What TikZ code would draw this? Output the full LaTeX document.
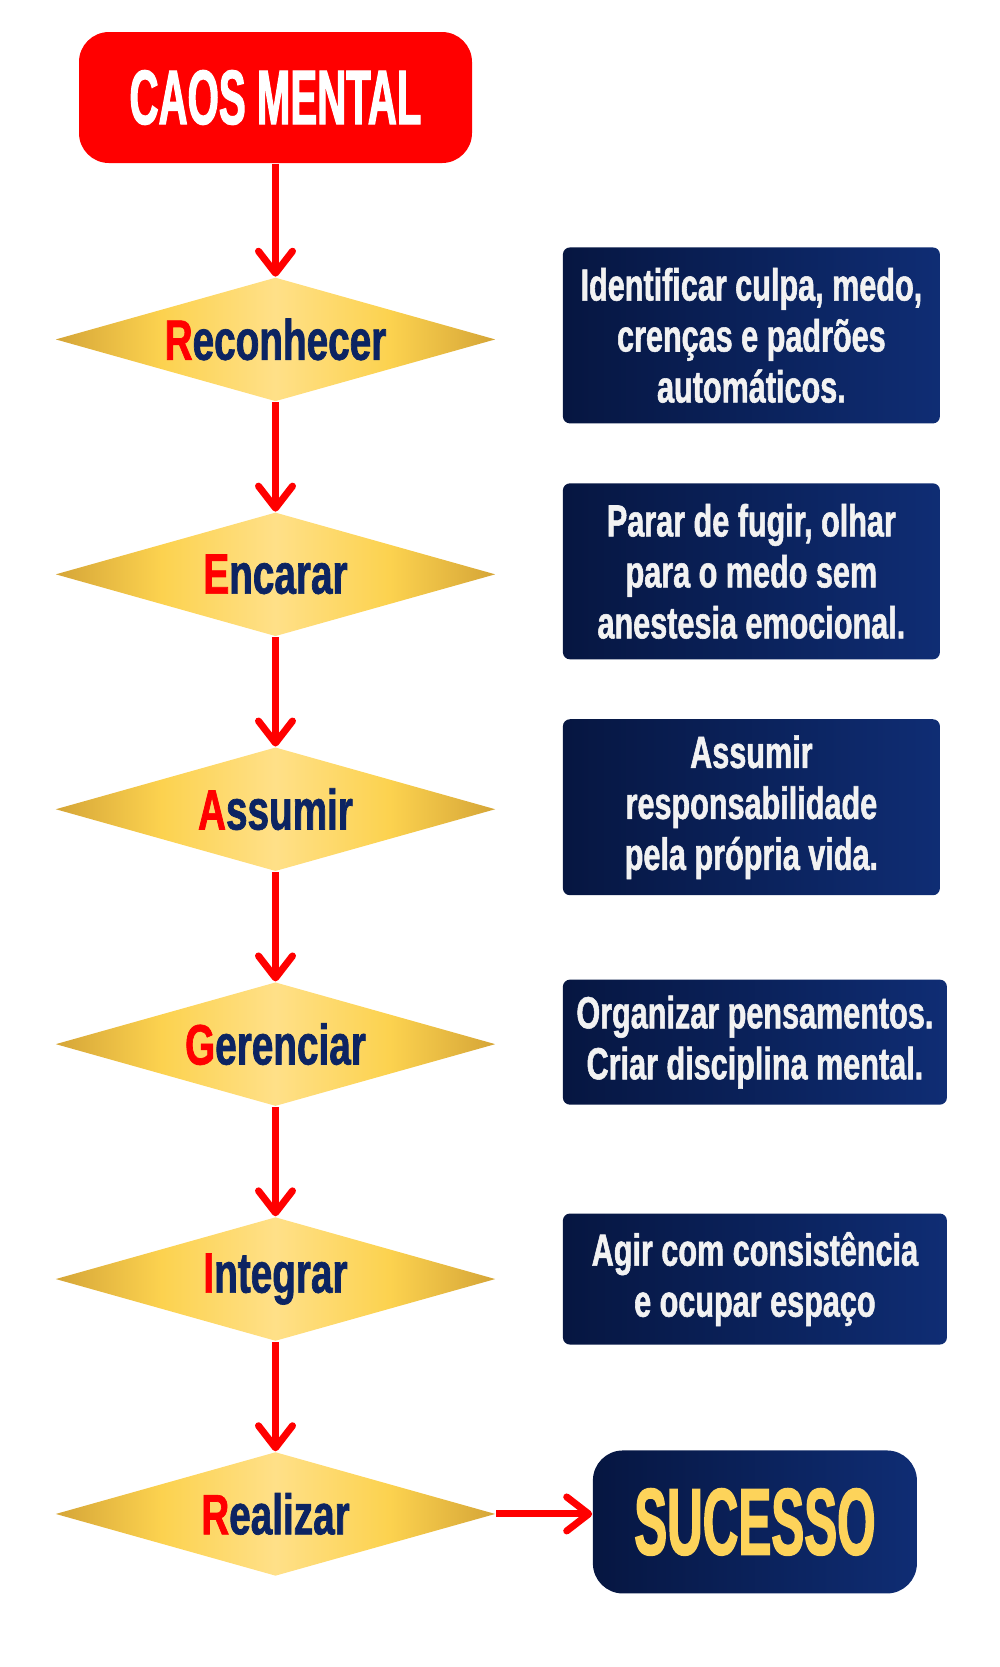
\documentclass[tikz,border=0pt]{standalone}
\usepackage{fontspec}
\usepackage{xcolor}
\usepackage{tikz}
\usetikzlibrary{shapes.geometric,arrows.meta,positioning,calc}
\newfontfamily\cmcond[FakeStretch=0.68,FakeBold=1.2]{Liberation Sans}
\newfontfamily\cmcaps[FakeStretch=0.52,FakeBold=1.4]{Liberation Sans}
\definecolor{cmred}{HTML}{FF0000}
\definecolor{cmnavyl}{HTML}{061641}
\definecolor{cmnavyr}{HTML}{0F2D74}
\definecolor{cmnavytxt}{HTML}{0C2462}
\definecolor{cmgoldd}{HTML}{D5A537}
\definecolor{cmgoldm}{HTML}{FCD24F}
\definecolor{cmgoldl}{HTML}{FFE088}
\definecolor{cmyellow}{HTML}{FDD35A}
\definecolor{cmtext}{HTML}{F2F2F2}
\pgfdeclarehorizontalshading{cmgold}{100bp}{color(0bp)=(cmgoldd); color(25bp)=(cmgoldd);
  color(37bp)=(cmgoldm); color(50bp)=(cmgoldl); color(63bp)=(cmgoldm);
  color(75bp)=(cmgoldd); color(100bp)=(cmgoldd)}
\tikzset{
  cmstart/.style={
    rectangle, rounded corners=0.3cm, fill=cmred, text=white,
    minimum width=3.93cm, minimum height=1.31cm, inner sep=0pt,
    font=\cmcaps\bfseries\fontsize{22}{22}\selectfont
  },
  cmstep/.style={
    diamond, shading=cmgold, aspect=3.55, inner sep=0pt,
    minimum width=4.4cm, minimum height=1.24cm, text=cmnavytxt,
    font=\cmcond\bfseries\fontsize{16.2}{16}\selectfont
  },
  cmnote/.style={
    rectangle, rounded corners=2pt, left color=cmnavyl, right color=cmnavyr,
    text=cmtext, minimum width=3.77cm, minimum height=1.76cm, inner sep=0pt,
    align=center, font=\cmcond\bfseries\fontsize{12.8}{14.5}\selectfont
  },
  cmnotewide/.style={cmnote, minimum width=3.84cm},
  cmend/.style={
    rectangle, rounded corners=0.3cm, left color=cmnavyl, right color=cmnavyr,
    text=cmyellow, minimum width=3.24cm, minimum height=1.43cm, inner sep=0pt,
    font=\cmcaps\bfseries\fontsize{27}{27}\selectfont
  },
  cmarrow/.style={-{Straight Barb[length=2.2mm,width=3.4mm,round]}, line width=0.7mm, draw=cmred},
}
\newcommand{\cmfirst}[1]{{\color{cmred}#1}}

\begin{document}
\begin{tikzpicture}[node distance=1.095cm and 0.66cm, align=center]
  \useasboundingbox (0,0) rectangle (10,-16.67);
  \node (n1) [cmstart] at (2.755,-0.975) {CAOS MENTAL};
  \node (n2) [cmstep, below=1.13cm of n1] {\cmfirst{R}econhecer};
  \node (n3) [cmstep, below=of n2] {\cmfirst{E}ncarar};
  \node (n4) [cmstep, below=of n3] {\cmfirst{A}ssumir};
  \node (n5) [cmstep, below=of n4] {\cmfirst{G}erenciar};
  \node (n6) [cmstep, below=of n5] {\cmfirst{I}ntegrar};
  \node (n7) [cmstep, below=of n6] {\cmfirst{R}ealizar};
  \node (t2) [cmnote, right=of n2, yshift=0.04cm] {Identificar culpa, medo,\\crenças e padrões\\automáticos.};
  \node (t3) [cmnote, right=of n3, yshift=0.03cm] {Parar de fugir, olhar\\para o medo sem\\anestesia emocional.};
  \node (t4) [cmnote, right=of n4, yshift=0.02cm] {Assumir\\responsabilidade\\pela própria vida.};
  \node (t5) [cmnotewide, right=of n5, minimum height=1.25cm, yshift=0.02cm] {Organizar pensamentos.\\Criar disciplina mental.};
  \node (t6) [cmnotewide, right=of n6, minimum height=1.31cm] {Agir com consistência\\e ocupar espaço};
  \node (n8) [cmend, right=0.96cm of n7, yshift=-0.08cm] {SUCESSO};
  \draw[cmarrow] (n1)--(n2); \draw[cmarrow] (n2)--(n3);
  \draw[cmarrow] (n3)--(n4); \draw[cmarrow] (n4)--(n5);
  \draw[cmarrow] (n5)--(n6); \draw[cmarrow] (n6)--(n7);
  \draw[cmarrow] (n7.east)--(n7.east -| n8.west);
\end{tikzpicture}
\end{document}
